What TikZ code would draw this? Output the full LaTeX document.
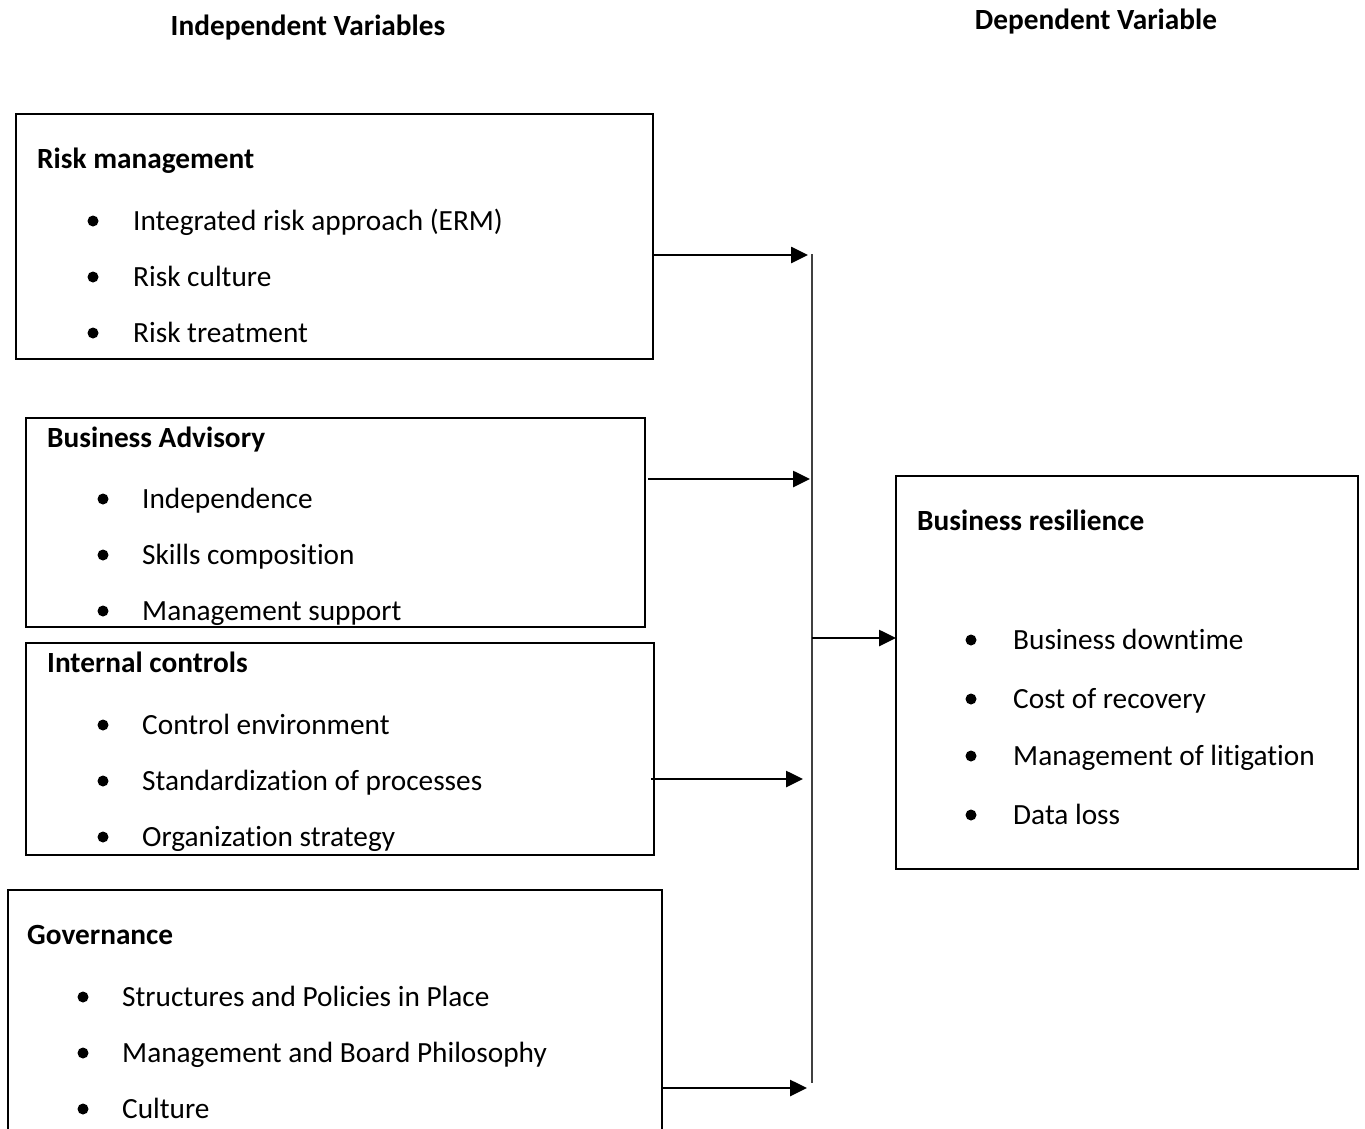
\documentclass[tikz,border=0pt]{standalone}
\usepackage{fontspec}
\setmainfont{Carlito}[Ligatures=NoCommon]
\usetikzlibrary{arrows.meta}
\newcommand\myitemfont{\fontsize{29.3}{35}\selectfont}
\newcommand\myhdrfont{\fontsize{29.3}{35}\selectfont\bfseries}
\tikzset{
  box/.style={draw, line width=1.8pt, inner sep=0pt, outer sep=0pt, anchor=north west},
  lbl/.style={anchor=base west, inner sep=0pt, font=\myitemfont},
  hdr/.style={anchor=base west, inner sep=0pt, font=\myhdrfont},
  ttl/.style={anchor=base, inner sep=0pt, font=\myhdrfont},
  dot/.style={circle, fill, inner sep=0pt, minimum size=11pt},
  arr/.style={line width=2.6pt, -{Triangle[length=17pt,width=16pt]}},
  vline/.style={line width=1.3pt, black!75},
}
\begin{document}
\begin{tikzpicture}[x=1pt,y=-1pt]
\useasboundingbox (0,0) rectangle (1365,1129);
\clip (0,0) rectangle (1365,1129);
% titles
\node[ttl] (tind) at (308,36) {Independent Variables};
\node[ttl] (tdep) at (1096,30) {Dependent Variable};
% boxes
\node[box, minimum width=637pt, minimum height=245pt] (rm) at (16,114) {};
\node[box, minimum width=619pt, minimum height=209pt] (ba) at (26,418) {};
\node[box, minimum width=628pt, minimum height=212pt] (ic) at (26,643) {};
\node[box, minimum width=654pt, minimum height=270pt] (gov) at (8,890) {};
\node[box, minimum width=462pt, minimum height=393pt] (br) at (896,476) {};
% Risk management
\node[hdr] (rmh) at (37,168) {Risk management};
\node[dot] (rmd1) at (93,221) {};
\node[dot] (rmd2) at (93,277) {};
\node[dot] (rmd3) at (93,333) {};
\node[lbl] (rm1) at (133,230) {Integrated risk approach (ERM)};
\node[lbl] (rm2) at (133,286) {Risk culture};
\node[lbl] (rm3) at (133,342) {Risk treatment};
% Business Advisory
\node[hdr] (bah) at (47,447) {Business Advisory};
\node[dot] (bad1) at (103,499) {};
\node[dot] (bad2) at (103,555) {};
\node[dot] (bad3) at (103,611) {};
\node[lbl] (ba1) at (142,508) {Independence};
\node[lbl] (ba2) at (142,564) {Skills composition};
\node[lbl] (ba3) at (142,620) {Management support};
% Internal controls
\node[hdr] (ich) at (47,672) {Internal controls};
\node[dot] (icd1) at (103,725) {};
\node[dot] (icd2) at (103,781) {};
\node[dot] (icd3) at (103,837) {};
\node[lbl] (ic1) at (142,734) {Control environment};
\node[lbl] (ic2) at (142,790) {Standardization of processes};
\node[lbl] (ic3) at (142,846) {Organization strategy};
% Governance
\node[hdr] (govh) at (27,944) {Governance};
\node[dot] (govd1) at (83,997) {};
\node[dot] (govd2) at (83,1053) {};
\node[dot] (govd3) at (83,1109) {};
\node[lbl] (gov1) at (122,1006) {Structures and Policies in Place};
\node[lbl] (gov2) at (122,1062) {Management and Board Philosophy};
\node[lbl] (gov3) at (122,1118) {Culture};
% Business resilience
\node[hdr] (brh) at (917,530) {Business resilience};
\node[dot] (brd1) at (971,640) {};
\node[dot] (brd2) at (971,699) {};
\node[dot] (brd3) at (971,756) {};
\node[dot] (brd4) at (971,815) {};
\node[lbl] (br1) at (1013,649) {Business downtime};
\node[lbl] (br2) at (1013,708) {Cost of recovery};
\node[lbl] (br3) at (1013,765) {Management of litigation};
\node[lbl] (br4) at (1013,824) {Data loss};
% connector spine
\coordinate (vtop) at (812,254);
\coordinate (vbot) at (812,1083);
\coordinate (e1) at (808,255);
\coordinate (e2) at (810,479);
\coordinate (e3) at (803,779);
\coordinate (e4) at (807,1088);
\coordinate (vmid) at (812,638);
\draw[vline] (vtop) -- (vbot);
\draw[arr] (rm.east |- e1) -- (e1);
\draw[arr] ([xshift=3pt]ba.east |- e2) -- (e2);
\draw[arr] ([xshift=-3pt]ic.east |- e3) -- (e3);
\draw[arr] (gov.east |- e4) -- (e4);
\draw[arr] (vmid) -- (br.west |- vmid);
\end{tikzpicture}
\end{document}
